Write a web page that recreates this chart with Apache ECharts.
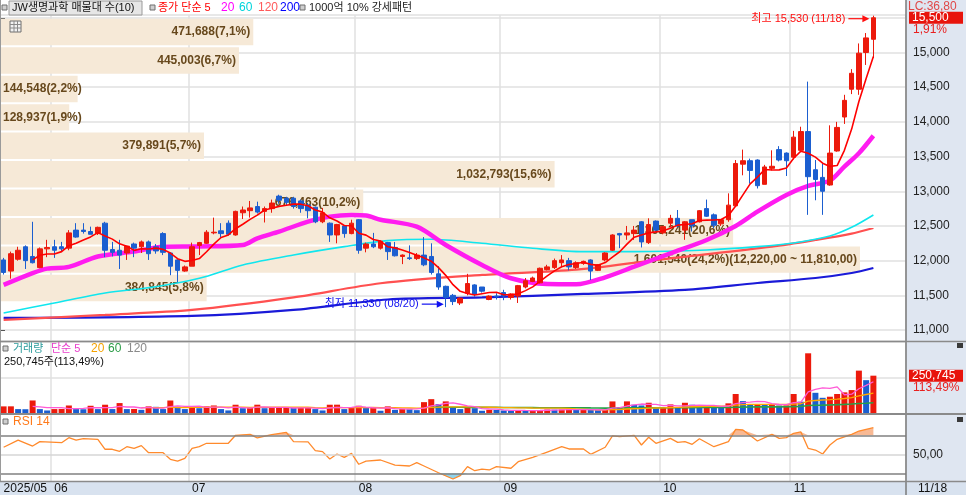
<!DOCTYPE html>
<html>
<head>
<meta charset="utf-8">
<script src="https://cdn.jsdelivr.net/npm/echarts@6/dist/echarts.min.js"></script>
<style>
html,body{margin:0;padding:0;background:#ffffff;}
#chart{width:966px;height:495px;}
</style>
</head>
<body>
<div id="chart"></div>
<script>
// ------------------------------------------------------------------ data
const year = '2025';
const daysMay = ['05/22','05/23','05/26','05/27','05/28','05/29','05/30'];
const daysJun = ['06/02','06/04','06/05','06/09','06/10','06/11','06/12','06/13','06/16','06/17','06/18','06/19','06/20','06/23','06/24','06/25','06/26','06/27','06/30'];
const daysJul = ['07/01','07/02','07/03','07/04','07/07','07/08','07/09','07/10','07/11','07/14','07/15','07/16','07/17','07/18','07/21','07/22','07/23','07/24','07/25','07/28','07/29','07/30','07/31'];
const daysAug = ['08/01','08/04','08/05','08/06','08/07','08/08','08/11','08/12','08/13','08/14','08/18','08/19','08/20','08/21','08/22','08/25','08/26','08/27','08/28','08/29'];
const daysSep = ['09/01','09/02','09/03','09/04','09/05','09/08','09/09','09/10','09/11','09/12','09/15','09/16','09/17','09/18','09/19','09/22','09/23','09/24','09/25','09/26','09/29','09/30'];
const daysOct = ['10/01','10/02','10/10','10/13','10/14','10/15','10/16','10/17','10/20','10/21','10/22','10/23','10/24','10/27','10/28','10/29','10/30','10/31'];
const daysNov = ['11/03','11/04','11/05','11/06','11/07','11/10','11/11','11/12','11/13','11/14','11/17','11/18'];

const opens = [
12010,11850,12020,12200,12060,11900,12170,12200,12200,12180,
12440,12440,12420,12390,12540,12160,12150,12110,12240,12200,
12270,12200,12390,12110,12010,11850,11920,12220,12250,12400,
12430,12540,12370,12690,12720,12780,12710,12750,12930,12900,
12900,12860,12800,12770,12560,12540,12370,12500,12390,12590,
12180,12240,12180,12260,12190,12060,12040,12030,12080,12060,
11810,11630,11500,11390,11530,11650,11620,11440,11490,11540,
11470,11490,11620,11700,11680,11870,11900,11970,12000,11900,
11960,12010,11860,12010,12150,12390,12370,12390,12560,12260,
12570,12400,12540,12610,12440,12590,12560,12750,12660,12530,
12590,12790,13390,13440,13450,13100,13330,13600,13550,13490,
13590,13860,13310,13200,13090,13580,14070,14470,14470,15000,
15190];
const closes = [
11830,12100,12150,12000,11970,12170,12190,12150,12170,12400,
12340,12420,12380,12480,12150,12120,12080,12210,12180,12270,
12100,12140,12120,11920,11860,11910,12200,12260,12410,12410,
12390,12380,12710,12730,12760,12700,12750,12830,12870,12840,
12780,12750,12720,12560,12690,12370,12520,12390,12540,12150,
12240,12200,12280,12130,12070,12080,12030,12080,11940,11830,
11620,11470,11410,11460,11670,11520,11560,11490,11480,11490,
11520,11640,11710,11750,11890,11910,12000,12010,11910,11970,
11990,11850,11940,12110,12370,12370,12400,12440,12270,12520,
12440,12490,12610,12500,12560,12500,12720,12640,12510,12590,
12800,13400,13440,13300,13080,13350,13360,13450,13440,13780,
13860,13210,13170,13000,13550,13920,14310,14700,14990,15210,
15500];
const lows = [
11800,11740,12000,11880,11960,11890,12050,12040,12130,12150,
12330,12390,12380,12370,12050,12060,11880,12010,12050,12110,
12010,12100,12080,11790,11690,11840,11920,12080,12240,12380,
12330,12360,12360,12600,12620,12680,12550,12690,12820,12800,
12750,12690,12610,12540,12540,12270,12250,12330,12380,12100,
12120,12180,12160,12010,12060,11950,12010,12010,11920,11800,
11580,11330,11360,11360,11500,11480,11540,11430,11440,11430,
11440,11390,11600,11690,11670,11860,11880,11920,11860,11880,
11940,11720,11850,11990,12140,12180,12300,12300,12190,12240,
12410,12380,12480,12480,12300,12420,12550,12630,12470,12500,
12560,12780,13230,13110,13040,13100,13300,13430,13220,13460,
13580,12660,12870,12660,13080,13570,13970,14400,14390,14820,
14920];
const highs = [
12040,12130,12200,12220,12560,12190,12300,12300,12270,12440,
12540,12540,12490,12490,12560,12270,12300,12210,12260,12290,
12290,12240,12410,12120,12020,11930,12260,12270,12440,12620,
12540,12580,12720,12780,12860,12850,12780,12880,12950,12920,
12920,12880,12830,12780,12760,12550,12530,12510,12590,12600,
12260,12400,12290,12270,12270,12090,12220,12110,12340,12250,
11920,11640,11520,11470,11810,11660,11620,11500,11530,11580,
11530,11650,11750,11770,11900,11940,12030,12080,12040,11990,
12000,12020,11950,12120,12380,12400,12500,12500,12570,12610,
12580,12500,12660,12730,12570,12590,12730,12880,12680,12600,
12970,13450,13600,13470,13460,13380,13590,13650,13560,13870,
13930,14580,13450,13400,13950,14000,14390,14760,15130,15280,
15530];
const volumes = [
47200,47500,29100,28300,86400,29200,20100,29300,30200,53100,
29400,28200,51300,29100,58200,29300,69100,29200,30100,24300,
47100,44200,29300,86100,45300,29400,47200,35100,47300,53200,
29300,20400,58100,35200,36100,58300,35100,36200,37100,38200,
36300,37200,38100,29200,20300,58200,58500,29100,36200,51300,
36100,37200,18300,47100,24200,29300,28100,22200,75300,95100,
62200,80300,40100,29200,42300,35100,18200,24100,23200,20100,
18300,20200,19200,20300,21100,26200,25300,26100,27200,25100,
26300,24100,22200,23300,80100,42300,80400,58100,53200,71300,
40200,41100,60300,40100,71200,58100,50200,51300,40100,39200,
67300,129100,82200,62100,63200,58300,62100,53200,54100,129300,
78200,399100,137200,104100,111300,129200,140100,155300,284200,220940,
250745];

const ma20Points = [['05/22',11650],['05/28',11820],['05/30',11885],['06/05',11910],['06/12',12060],['06/19',12130],['06/25',12200],['07/02',12205],['07/10',12226],['07/14',12322],['07/17',12418],['07/23',12562],['07/28',12634],['07/31',12658],['08/04',12650],['08/06',12590],['08/13',12490],['08/20',12226],['08/27',11938],['09/02',11746],['09/09',11664],['09/15',11660],['09/19',11760],['09/25',11913],['10/02',12106],['10/16',12298],['10/22',12500],['10/27',12706],['10/31',12947],['11/05',13077],['11/10',13153],['11/12',13355],['11/14',13548],['11/18',13800]];
const ma60Points = [['05/22',11246],['06/02',11390],['06/13',11534],['06/24',11625],['07/02',11746],['07/10',11938],['07/21',12082],['07/30',12202],['08/07',12288],['08/18',12308],['08/27',12250],['09/05',12178],['09/16',12130],['09/25',12130],['10/16',12154],['10/27',12202],['11/03',12255],['11/10',12356],['11/13',12480],['11/18',12658]];
const ma120Points = [['05/22',11146],['06/13',11218],['07/01',11290],['07/21',11470],['08/06',11674],['08/27',11794],['09/15',11870],['10/02',12034],['10/29',12202],['11/06',12298],['11/13',12390],['11/18',12471]];
const ma200Points = [['05/22',11174],['07/01',11203],['07/21',11290],['08/07',11440],['08/27',11470],['09/16',11520],['10/13',11578],['10/27',11678],['11/06',11750],['11/13',11822],['11/18',11894]];
const rsiPoints = [['05/22',57.4],['05/26',65.0],['05/28',58.7],['05/29',63.3],['06/04',62.2],['06/05',67.5],['06/09',65.0],['06/10',66.4],['06/12',65.8],['06/13',55.3],['06/16',55.3],['06/17',53.2],['06/18',58.0],['06/19',56.3],['06/20',59.1],['06/23',51.7],['06/25',51.7],['06/26',44.7],['06/27',42.9],['06/30',45.8],['07/01',56.3],['07/02',58.0],['07/03',61.6],['07/08',61.6],['07/09',70.0],['07/11',71.0],['07/14',67.2],['07/16',70.6],['07/18',73.1],['07/21',63.3],['07/23',63.0],['07/24',53.8],['07/25',52.8],['07/28',45.1],['07/29',50.3],['07/30',46.8],['07/31',51.0],['08/01',39.5],['08/04',42.9],['08/06',44.0],['08/08',38.7],['08/12',37.7],['08/13',41.2],['08/14',37.7],['08/19',30.6],['08/21',24.0],['08/22',27.5],['08/25',37.0],['08/26',32.7],['08/27',34.5],['08/28',33.5],['08/29',37.0],['09/02',35.3],['09/03',42.2],['09/05',46.8],['09/09',52.4],['09/11',58.0],['09/12',55.6],['09/16',55.6],['09/17',50.0],['09/19',57.4],['09/22',69.3],['09/23',68.5],['09/25',70.0],['09/26',59.8],['09/29',67.9],['09/30',61.6],['10/02',66.8],['10/10',62.6],['10/13',63.3],['10/14',60.5],['10/15',66.4],['10/17',58.0],['10/21',63.3],['10/22',76.3],['10/23',75.6],['10/27',64.0],['10/29',71.0],['10/30',66.8],['10/31',67.5],['11/03',72.1],['11/04',73.5],['11/05',56.3],['11/06',54.5],['11/07',50.3],['11/10',59.8],['11/11',65.8],['11/13',71.0],['11/14',74.5],['11/18',78.0]];

const profileVolumes = [471688, 445003, 144548, 128937, 379891, 1032793, 676463, 1365241, 1601540, 384845];
const profileHighs = [15500, 15090, 14680, 14270, 13860, 13450, 13040, 12630, 12220, 11810];
const profileLows  = [15090, 14680, 14270, 13860, 13450, 13040, 12630, 12220, 11810, 11400];

const rsiLevels = [30, 50, 70];
const stockName = 'JW생명과학';
const lcText = 'LC:36,80';

// ------------------------------------------------------------------ helpers
const FONTF = "'Liberation Sans','Noto Sans CJK KR',sans-serif";
const RED = '#ec1a0c', BLUE = '#1b5ed0';
const fmt = v => Math.round(v).toLocaleString('en-US');
const dec = (v, n) => v.toFixed(n).replace('.', ',');
const dec2 = v => v.toLocaleString('en-US', {minimumFractionDigits: 2, maximumFractionDigits: 2}).replace(/\.(\d\d)$/, ',$1');
function sma(arr, n) {
  return arr.map((_, i) => {
    if (i < n - 1) return '-';
    let s = 0; for (let k = i - n + 1; k <= i; k++) s += arr[k];
    return +(s / n).toFixed(1);
  });
}
const dates = [].concat(daysMay, daysJun, daysJul, daysAug, daysSep, daysOct, daysNov);
const N = dates.length;
const idxOf = d => dates.indexOf(d);
const toPairs = pts => pts.map(p => [idxOf(p[0]), p[1]]);
const cats = dates.concat(['', '', '', '']);  // empty slots on the right edge
const isMonthStart = i => i > 0 && i < N && dates[i].slice(0, 2) !== dates[i - 1].slice(0, 2);

const candleData = dates.map((d, i) => [opens[i], closes[i], lows[i], highs[i]]);
const ma5 = sma(closes, 5);
const volData = volumes.map((v, i) => ({value: v, itemStyle: {color: (i === 0 || v >= volumes[i - 1]) ? RED : BLUE}}));
const vma5 = sma(volumes, 5), vma20 = sma(volumes, 20), vma60 = sma(volumes, 60);

const profileTotal = profileVolumes.reduce((a, b) => a + b, 0);
const profileMax = Math.max(...profileVolumes);
const pocIdx = profileVolumes.indexOf(profileMax);
const profileLabels = profileVolumes.map((v, k) => {
  let s = fmt(v) + '(' + dec(v / profileTotal * 100, 1) + '%)';
  if (k === pocIdx) s += '(' + dec2(profileHighs[k]) + ' ~ ' + dec2(profileLows[k]) + ')';
  return s;
});
const profileData = profileVolumes.map((v, k) => [v, profileLows[k], profileHighs[k]]);

const rsiData = toPairs(rsiPoints);
const rsiHiBase = rsiData.map(p => [p[0], 70]);
const rsiHiFill = rsiData.map(p => [p[0], Math.max(p[1] - 70, 0)]);
const rsiLoBase = rsiData.map(p => [p[0], Math.min(p[1], 30)]);
const rsiLoFill = rsiData.map(p => [p[0], 30 - Math.min(p[1], 30)]);

function line(data, color, width, z, xi, yi, smooth) {
  return {type: 'line', xAxisIndex: xi, yAxisIndex: yi, data: data, symbol: 'none', smooth: smooth || false,
    z: z, silent: true, connectNulls: true, lineStyle: {color: color, width: width}, itemStyle: {color: color}};
}
function catAxis(gi, showLabel) {
  return {type: 'category', gridIndex: gi, data: cats, boundaryGap: true,
    axisLine: {show: false}, axisTick: {show: false},
    axisLabel: showLabel ? {show: true, interval: (i) => i === 0 || isMonthStart(i),
      formatter: (v, i) => i === 0 ? year + '/' + v.slice(0, 2) : v.slice(0, 2),
      align: 'left', margin: 1, lineHeight: 12, color: '#111', fontSize: 12, fontFamily: FONTF} : {show: false},
    splitLine: {show: true, interval: (i) => isMonthStart(i), lineStyle: {color: '#e0e0e0', width: 1.5}}};
}

// ------------------------------------------------------------------ chart
const chart = echarts.init(document.getElementById('chart'), null, {renderer: 'canvas'});
const option = {
  animation: false,
  backgroundColor: '#ffffff',
  grid: [
    {left: 0, right: 60, top: 15, height: 326, outerBoundsMode: 'none', containLabel: false},
    {left: 0, right: 60, top: 342, height: 71.5, outerBoundsMode: 'none', containLabel: false},
    {left: 0, right: 60, top: 415, height: 66.5, outerBoundsMode: 'none', containLabel: false}
  ],
  xAxis: [
    catAxis(0, false), catAxis(1, false), catAxis(2, true),
    {type: 'value', gridIndex: 0, position: 'top', show: false, min: 0, max: profileMax * 906 / 860,
      splitLine: {show: false}}
  ],
  yAxis: [
    {type: 'value', gridIndex: 0, position: 'right', min: 10842, max: 15540, splitNumber: 9,
      axisLine: {show: false}, axisTick: {show: true, length: 5, lineStyle: {color: '#555'}},
      axisLabel: {margin: 7, color: '#222', fontSize: 12, fontFamily: FONTF, showMinLabel: false, showMaxLabel: false,
        formatter: v => fmt(v)},
      splitLine: {lineStyle: {color: '#e0e0e0', width: 1.5}}},
    {type: 'value', gridIndex: 1, position: 'right', min: 0, max: 474000, interval: 237000,
      axisLine: {show: false}, axisTick: {show: false}, axisLabel: {show: false},
      splitLine: {lineStyle: {color: '#e0e0e0', width: 1.5}}},
    {type: 'value', gridIndex: 2, position: 'right', min: 21.37, max: 91.37,
      axisLine: {show: false}, axisTick: {show: false}, axisLabel: {show: false}, splitLine: {show: false}}
  ],
  series: [
    {type: 'custom', name: 'profile', xAxisIndex: 3, yAxisIndex: 0, z: 1, silent: true, data: profileData,
      encode: {x: 0, y: [1, 2]},
      renderItem: function (params, api) {
        const vol = api.value(0), lo = api.value(1), hi = api.value(2);
        const pTop = api.coord([vol, hi]);
        const pBot = api.coord([vol, lo]);
        const x0 = params.coordSys.x;
        const y0 = pTop[1] + 1, y1 = pBot[1] - 1;
        const w = pTop[0] - x0;
        const right = w > 100;
        return {type: 'group', children: [
          {type: 'rect', shape: {x: x0, y: y0, width: w, height: y1 - y0}, style: {fill: '#f6e9d7'}},
          {type: 'text', style: {text: profileLabels[params.dataIndex], x: right ? x0 + w - 3 : x0 + 3, y: (y0 + y1) / 2,
            textAlign: right ? 'right' : 'left', align: right ? 'right' : 'left',
            textVerticalAlign: 'middle', verticalAlign: 'middle',
            fill: '#67481c', font: 'bold 12px ' + FONTF}}
        ]};
      }},
    line(toPairs(ma200Points), '#1a1ad8', 2.2, 3, 0, 0, 0.3),
    line(toPairs(ma120Points), '#ff5050', 2.2, 3, 0, 0, 0.3),
    line(toPairs(ma60Points), '#10e6ee', 1.6, 3, 0, 0, 0.3),
    line(toPairs(ma20Points), '#ff1cf0', 4.5, 3, 0, 0, 0.3),
    {type: 'candlestick', xAxisIndex: 0, yAxisIndex: 0, data: candleData, barWidth: 5, z: 5, silent: true,
      itemStyle: {color: RED, color0: BLUE, borderColor: RED, borderColor0: BLUE, borderWidth: 1}},
    line(ma5, '#ff0000', 1.6, 6, 0, 0, false),

    {type: 'bar', xAxisIndex: 1, yAxisIndex: 1, data: volData, barWidth: 6, z: 2, silent: true},
    line(vma60, '#27a04a', 1.6, 4, 1, 1, false),
    line(vma20, '#ffa800', 1.3, 4, 1, 1, false),
    line(vma5, '#ff5ad6', 1.3, 4, 1, 1, false),

    {type: 'line', xAxisIndex: 2, yAxisIndex: 2, data: rsiHiBase, stack: 'hi', symbol: 'none', silent: true, z: 2,
      lineStyle: {opacity: 0, width: 0}},
    {type: 'line', xAxisIndex: 2, yAxisIndex: 2, data: rsiHiFill, stack: 'hi', symbol: 'none', silent: true, z: 2,
      lineStyle: {opacity: 0, width: 0}, areaStyle: {color: '#f8b994', opacity: 1}},
    {type: 'line', xAxisIndex: 2, yAxisIndex: 2, data: rsiLoBase, stack: 'lo', symbol: 'none', silent: true, z: 2,
      lineStyle: {opacity: 0, width: 0}},
    {type: 'line', xAxisIndex: 2, yAxisIndex: 2, data: rsiLoFill, stack: 'lo', symbol: 'none', silent: true, z: 2,
      lineStyle: {opacity: 0, width: 0}, areaStyle: {color: '#8fd4ec', opacity: 1}},
    {type: 'line', xAxisIndex: 2, yAxisIndex: 2, data: rsiData, symbol: 'none', silent: true, z: 4,
      lineStyle: {color: '#ff8a2c', width: 1.3}, itemStyle: {color: '#ff8a2c'},
      markLine: {silent: true, symbol: 'none', label: {show: false}, animation: false,
        data: rsiLevels.map(v => ({yAxis: v, lineStyle: {color: v === 50 ? '#d6d6d6' : '#808080', width: 1.5, type: 'solid'}}))}}
  ]
};
chart.setOption(option);

// ------------------------------------------------------------------ annotations (positions from the axes)
const P = (xa, ya, x, y) => chart.convertToPixel({xAxisIndex: xa, yAxisIndex: ya}, [x, y]);
const font = (s, b) => (b ? 'bold ' : '') + s + 'px ' + FONTF;
function T(x, y, text, fill, size, align) {
  return {type: 'text', x: x, y: y, z: 60, silent: true,
    style: {text: text, fill: fill, font: font(size || 12), textAlign: align || 'left', align: align || 'left',
      textVerticalAlign: 'middle', verticalAlign: 'middle'}};
}
function R(x, y, w, h, fill, stroke, z) {
  return {type: 'rect', z: z == null ? 55 : z, silent: true, shape: {x: x, y: y, width: w, height: h},
    style: {fill: fill, stroke: stroke || null, lineWidth: 1}};
}
function L(x1, y1, x2, y2, color, w, z) {
  return {type: 'line', z: z == null ? 50 : z, silent: true, shape: {x1: x1, y1: y1, x2: x2, y2: y2},
    style: {stroke: color, lineWidth: w || 1}};
}
function icon(x, y) { return R(x, y, 5, 5, '#cfcfcf', '#6e6e6e'); }

const g = [];
// backgrounds
g.push(R(906, 0, 60, 482, '#dfe6f1', null, -5));
g.push(R(0, 482, 966, 13, '#d8e2ef', null, -5));
// frame lines
g.push(L(906, 0, 906, 495, '#7a7a7a', 1.5));
g.push(L(0.5, 0, 0.5, 482, '#9a9a9a', 1));
g.push(L(0, 341.5, 966, 341.5, '#8a8a8a', 1.5));
g.push(L(0, 414, 966, 414, '#8a8a8a', 2));
g.push(L(0, 481.5, 966, 481.5, '#8a8a8a', 1.5));

// header
g.push(icon(2, 5));
g.push(R(9, 1, 133, 14, '#e6e6e6', '#9a9a9a', 54));
g.push(T(12, 8, stockName + ' 매물대 수(' + profileVolumes.length + ')', '#111', 11));
g.push(icon(150, 5));
g.push(T(158, 8, '종가 단순 5', '#ff0000', 11));
g.push(T(221, 8, '20', '#ff00ff', 12));
g.push(T(239, 8, '60', '#00d4dc', 12));
g.push(T(258, 8, '120', '#ff5a5a', 12));
g.push(T(280, 8, '200', '#0000ff', 12));
g.push(icon(300, 5));
g.push(T(309, 8, '1000억 10% 강세패턴', '#222', 11));
// small table icon
g.push(R(10, 21, 11, 11, '#f2f2f2', '#6e6e6e'));
g.push(L(10, 24.5, 21, 24.5, '#8a8a8a', 1, 56));
g.push(L(10, 28, 21, 28, '#8a8a8a', 1, 56));
g.push(L(14, 21, 14, 32, '#8a8a8a', 1, 56));
g.push(L(17.5, 21, 17.5, 32, '#8a8a8a', 1, 56));

// high / low markers
const hiIdx = highs.indexOf(Math.max(...highs));
const loIdx = lows.indexOf(Math.min(...lows));
const pHi = P(0, 0, hiIdx, highs[hiIdx]);
const pLo = P(0, 0, loIdx, lows[loIdx]);
{
  const y = pHi[1] + 3, tip = pHi[0] - 4;
  g.push(T(tip - 24, y, '최고 ' + fmt(highs[hiIdx]) + ' (' + dates[hiIdx] + ')', '#ff1010', 11, 'right'));
  g.push(L(tip - 21, y, tip - 4, y, '#ff1010', 1.2));
  g.push({type: 'polygon', z: 60, silent: true, shape: {points: [[tip, y], [tip - 7, y - 3.5], [tip - 7, y + 3.5]]}, style: {fill: '#ff1010'}});
}
{
  const y = pLo[1] - 3, tip = pLo[0] - 2;
  g.push(T(tip - 25, y, '최저 ' + fmt(lows[loIdx]) + ' (' + dates[loIdx] + ')', '#1010f0', 11, 'right'));
  g.push(L(tip - 22, y, tip - 4, y, '#1010f0', 1.2));
  g.push({type: 'polygon', z: 60, silent: true, shape: {points: [[tip, y], [tip - 7, y - 3.5], [tip - 7, y + 3.5]]}, style: {fill: '#1010f0'}});
}

// last price tag
const lastClose = closes[N - 1], prevClose = closes[N - 2];
const pC = P(0, 0, N - 1, lastClose);
g.push(T(908, pC[1] - 11, lcText, '#e04848', 12));
g.push(R(909, pC[1] - 6, 54, 12, '#e8140c', null, 58));
g.push(T(912, pC[1], fmt(lastClose), '#ffffff', 12));
g.push(T(913, pC[1] + 12, dec((lastClose / prevClose - 1) * 100, 2) + '%', '#e82020', 12));

// volume panel texts
const lastVol = volumes[N - 1], prevVol = volumes[N - 2];
const volPct = dec(lastVol / prevVol * 100, 2);
g.push(icon(3, 346));
g.push(T(13, 349, '거래량', '#2c9c9c', 11));
g.push(T(51, 349, '단순 5', '#e83ccb', 11));
g.push(T(91, 349, '20', '#f5a300', 12));
g.push(T(108, 349, '60', '#2a9c46', 12));
g.push(T(127, 349, '120', '#8a8a8a', 12));
g.push(T(4, 362, fmt(lastVol) + '주(' + volPct + '%)', '#111', 11));
const pV = P(1, 1, N - 1, lastVol);
g.push(R(909, pV[1] - 6, 54, 12, '#e8140c', null, 58));
g.push(T(912, pV[1], fmt(lastVol), '#ffffff', 12));
g.push(T(913, pV[1] + 12, volPct + '%', '#e82020', 12));
g.push(R(957, 343, 6, 5, '#3a3a3a', null, 58));

// RSI panel texts
g.push(icon(3, 419));
g.push(T(13, 422, 'RSI 14', '#ff7a1a', 12));
const p50 = P(2, 2, 0, 50);
g.push(T(913, p50[1], dec(50, 2), '#222', 12));
g.push(R(957, 417, 6, 5, '#3a3a3a', null, 58));

// last date on the axis strip
g.push(T(918, 489, dates[N - 1], '#111', 12));

chart.setOption({graphic: g});
</script>
</body>
</html>
